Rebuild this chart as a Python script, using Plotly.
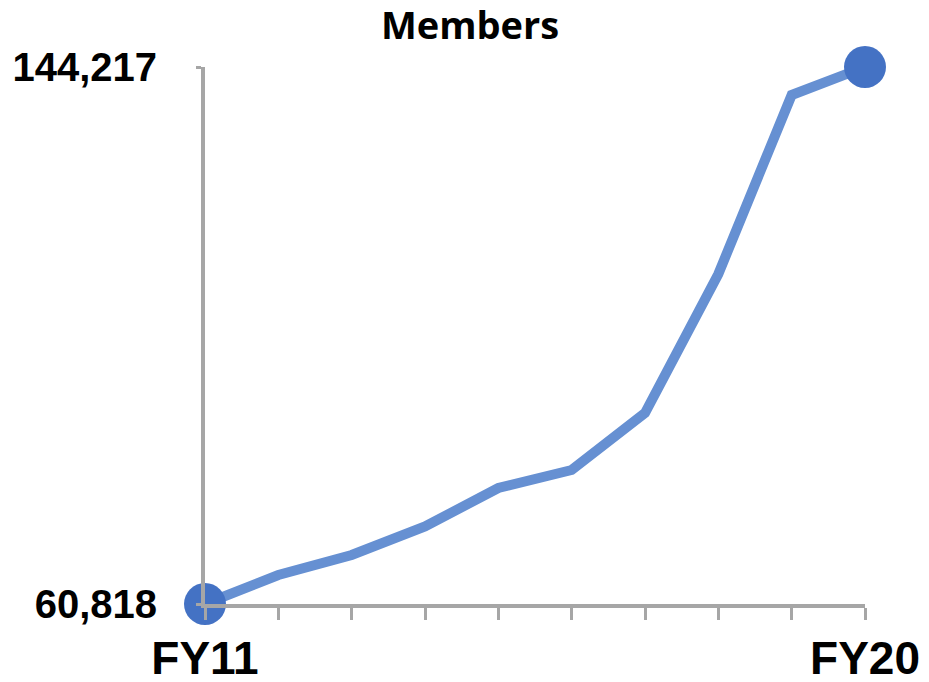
import plotly.graph_objects as go

categories = ["FY11", "FY12", "FY13", "FY14", "FY15", "FY16", "FY17", "FY18", "FY19", "FY20"]
members = [60818, 65322, 68428, 72854, 78833, 81628, 90480, 112067, 139866, 144217]
tick_text_x = ["FY11", "", "", "", "", "", "", "", "", "FY20"]
y_ticks = [60818, 144217]
y_tick_text = ["60,818", "144,217"]

W, H = 929, 682

fig = go.Figure()
fig.add_trace(go.Scatter(
    x=categories, y=members, mode="lines",
    line=dict(color="#6690D2", width=10),
    cliponaxis=False, hoverinfo="skip",
))
fig.add_trace(go.Scatter(
    x=[categories[0], categories[-1]], y=[members[0], members[-1]], mode="markers",
    marker=dict(color="#4472C4", size=42),
    cliponaxis=False, hoverinfo="skip",
))

fig.update_layout(
    width=W, height=H,
    margin=dict(l=205, r=64, t=67, b=78, autoexpand=False),
    plot_bgcolor="white", paper_bgcolor="white",
    showlegend=False,
    title=dict(text="<b>Members</b>", x=470/W, xanchor="center", y=1-26/H, yanchor="middle",
               font=dict(family="Open Sans", size=38, color="black"), automargin=False),
    xaxis=dict(
        type="category", range=[0, 9], tickmode="array", tickvals=categories, ticktext=tick_text_x,
        showline=True, linecolor="#A6A6A6", linewidth=4,
        ticks="outside", ticklen=12, tickwidth=3, tickcolor="#A6A6A6",
        showgrid=False, zeroline=False, ticklabelstandoff=-1, automargin=False,
        tickfont=dict(family="Liberation Sans", size=46, color="black", weight="bold"),
    ),
    yaxis=dict(
        range=[60818, 144217], tickmode="array", tickvals=y_ticks, ticktext=y_tick_text,
        showline=True, linecolor="#A6A6A6", linewidth=4,
        ticks="outside", ticklen=5, tickwidth=3, tickcolor="#A6A6A6",
        showgrid=False, zeroline=False, ticklabelstandoff=31, automargin=False,
        tickfont=dict(family="Liberation Sans", size=40, color="black", weight="bold"),
    ),
)

fig.write_html("out.html", config={"displayModeBar": False},
               post_script="document.body.style.margin='0px';")
